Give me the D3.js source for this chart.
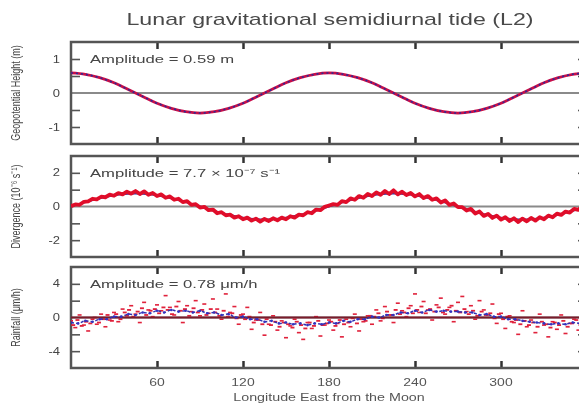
<!DOCTYPE html>
<html><head><meta charset="utf-8">
<script src="https://cdn.jsdelivr.net/npm/d3@7"></script>
<style>
html,body{margin:0;padding:0;background:#fff;overflow:hidden}
svg{display:block;font-family:"Liberation Sans",Arial,sans-serif}
</style></head>
<body>
<svg id="c" width="579" height="407"></svg>
<script>
// ---------- DATA ----------
const title = "Lunar gravitational semidiurnal tide (L2)";
const xTitle = "Longitude East from the Moon";
const xTicks = [60, 120, 180, 240, 300];

// Panel 1: geopotential height (m), every 10 degrees
const lon10 = d3.range(0, 361, 10);
const heightObs = [0.59,0.55,0.45,0.30,0.10,-0.10,-0.30,-0.45,-0.55,-0.59,-0.55,-0.45,-0.30,-0.10,0.10,0.30,0.45,0.55,0.59,
                   0.55,0.45,0.30,0.10,-0.10,-0.30,-0.45,-0.55,-0.59,-0.55,-0.45,-0.30,-0.10,0.10,0.30,0.45,0.55,0.59];
const heightTicks = [-1,-0.5,0.5,1];
const heightLabels = [-1,0,1];

// Panel 2: divergence (1e-6 s^-1), observations every 3 degrees, fit every 10 degrees
const lon3 = d3.range(0, 361, 3);
const divObs = [0.02,0.12,0.10,0.28,0.30,0.46,0.42,0.58,0.55,0.70,0.64,0.80,0.72,0.88,0.76,0.92,
  0.74,0.90,0.70,0.80,0.62,0.72,0.52,0.60,0.40,0.46,0.26,0.32,0.10,0.14,-0.06,
  -0.02,-0.22,-0.18,-0.40,-0.34,-0.52,-0.48,-0.66,-0.58,-0.76,-0.66,-0.84,-0.72,-0.90,-0.74,
  -0.86,-0.70,-0.82,-0.66,-0.76,-0.58,-0.66,-0.48,-0.52,-0.34,-0.40,-0.18,-0.22,-0.02,0.06,
  0.14,0.10,0.32,0.26,0.48,0.40,0.62,0.52,0.74,0.62,0.84,0.70,0.92,0.74,0.96,
  0.72,0.88,0.68,0.80,0.60,0.74,0.50,0.62,0.40,0.48,0.24,0.36,0.10,0.18,-0.04,
  -0.04,-0.24,-0.14,-0.42,-0.30,-0.56,-0.44,-0.68,-0.54,-0.78,-0.64,-0.86,-0.70,-0.92,-0.72,
  -0.88,-0.68,-0.84,-0.64,-0.76,-0.54,-0.64,-0.42,-0.50,-0.30,-0.36,-0.14,-0.20,0.04,0.02];
const divFit = [0,0.26,0.49,0.67,0.76,0.76,0.67,0.49,0.26,0,-0.26,-0.49,-0.67,-0.76,-0.76,-0.67,-0.49,-0.26,0,
  0.26,0.49,0.67,0.76,0.76,0.67,0.49,0.26,0,-0.26,-0.49,-0.67,-0.76,-0.76,-0.67,-0.49,-0.26,0];
const divTicks = [-2,-1,1,2];
const divLabels = [-2,0,2];

// Panel 3: rainfall (um/h)
const rainObs = [-0.4,-1.2,0.3,-0.9,-1.6,-0.2,-0.8,0.4,-1.1,-0.3,0.6,
  -0.5,1.0,0.2,1.4,0.4,-0.6,1.8,0.9,0.1,1.5,
  0.8,2.6,1.2,0.3,1.9,-0.6,1.4,0.7,2.0,0.2,
  1.6,0.5,2.2,1.0,-0.2,2.8,0.6,1.3,-0.8,0.4,
  1.2,-1.4,-0.3,0.6,-2.1,-0.8,0.2,-1.5,-0.4,-2.4,
  -1.0,-0.2,-1.8,-2.6,-0.6,-1.3,0.1,-2.2,-0.9,-0.3,
  -1.5,-0.7,-2.3,-0.2,-1.1,0.4,-1.6,-0.5,0.2,-0.8,
  0.9,-0.4,1.3,0.3,-0.6,1.7,0.8,0.1,1.4,2.8,
  0.6,1.9,0.9,-0.3,1.5,2.3,0.4,1.2,-0.5,1.8,
  2.5,0.7,1.4,-0.2,2.0,0.9,0.3,1.6,-0.7,0.5,
  -1.3,0.2,-0.6,-2.0,0.8,-1.1,-0.3,-1.8,0.4,-0.9,
  -2.3,-0.5,-1.4,0.3,-1.9,-0.7,-0.2,-1.5,-0.8,-2.0];
const lonHalf = d3.range(1.5, 360, 3);
const rainObs2 = [-0.9,-0.3,-1.0,-0.5,-0.7,0.0,-0.6,-0.2,0.3,-0.4,
  0.4,-0.2,0.6,0.9,0.1,0.7,1.1,0.3,0.8,1.0,
  0.5,1.2,0.9,0.4,1.3,0.8,1.0,0.2,1.1,0.6,
  0.9,0.3,1.0,0.6,0.2,0.8,0.1,0.5,-0.1,0.3,
  -0.2,0.1,-0.6,-0.3,-0.8,-0.2,-0.9,-0.5,-1.1,-0.6,
  -0.8,-1.2,-0.5,-0.9,-1.3,-0.6,-1.0,-0.4,-0.9,-0.7,
  -0.5,-1.0,-0.3,-0.8,-0.6,-0.1,-0.7,-0.2,-0.4,0.2,
  0.1,0.5,-0.1,0.7,0.3,0.9,0.4,0.6,1.1,0.5,
  0.9,1.3,0.5,1.0,0.7,1.2,0.6,0.9,1.4,0.8,
  0.6,1.0,0.4,0.8,0.2,0.7,0.3,0.5,-0.1,0.4,
  -0.2,0.1,-0.5,-0.3,-0.8,-0.4,-0.9,-0.6,-1.1,-0.5,
  -0.8,-1.2,-0.6,-0.9,-0.4,-1.1,-0.7,-0.3,-0.9,-0.5];
const lon5 = d3.range(0, 361, 5);
const rainFit = [-0.6,-0.7,-0.4,-0.5,-0.2,-0.2,0.1,0.1,0.4,0.3,0.6,0.5,0.8,0.6,0.9,0.7,0.8,0.6,0.8,0.5,0.6,0.3,0.4,0.0,0.1,
  -0.2,-0.2,-0.5,-0.4,-0.7,-0.6,-0.8,-0.7,-0.9,-0.7,-0.8,-0.6,-0.7,-0.4,-0.5,-0.2,-0.2,0.1,0.0,0.3,0.3,0.6,0.5,0.8,0.6,
  0.9,0.7,0.8,0.7,0.7,0.6,0.6,0.3,0.4,0.1,0.1,-0.2,-0.2,-0.4,-0.5,-0.6,-0.7,-0.8,-0.7,-0.8,-0.6,-0.7,-0.6];
const rainTicks = [-4,-2,2,4];
const rainLabels = [-4,0,4];

// ---------- DRAW ----------
const svg = d3.select("#c");
const defs = svg.append("defs");
defs.append("filter").attr("id","blur").append("feGaussianBlur").attr("stdDeviation",0.6);
const root = svg.append("g").attr("filter","url(#blur)");

function stext(g, px, py, str, size, anchor, sx, fill){
  return g.append("text").attr("transform",`translate(${px},${py}) scale(${sx},1)`)
    .attr("text-anchor",anchor).attr("font-size",size).attr("fill",fill||"#444").text(str);
}

const x = d3.scaleLinear().domain([0,360]).range([71,587]);

stext(root, 330, 25, title, 16, "middle", 1.45, "#4a4a4a");

const panels = [
  {top:42,bottom:144,domain:[-1.5,1.5],ticks:heightTicks,labels:heightLabels,ylab:"Geopotential Height (m)",amp:"Amplitude = 0.59 m"},
  {top:156,bottom:257,domain:[-3,3],ticks:divTicks,labels:divLabels,ylab:"Divergence (10⁻⁶ s⁻¹)",amp:"Amplitude = 7.7 × 10⁻⁷ s⁻¹"},
  {top:267,bottom:368,domain:[-6,6],ticks:rainTicks,labels:rainLabels,ylab:"Rainfall (μm/h)",amp:"Amplitude = 0.78 μm/h"}
];

panels.forEach((p,i)=>{
  const y = d3.scaleLinear().domain(p.domain).range([p.bottom,p.top]);
  p.y = y;
  const g = root.append("g");
  const cid = "clip"+i;
  defs.append("clipPath").attr("id",cid).append("rect")
    .attr("x",x(0)).attr("y",p.top).attr("width",x(360)-x(0)).attr("height",p.bottom-p.top);
  p.g = g; p.clip = "url(#"+cid+")";
  g.append("line").attr("x1",x(0)).attr("x2",x(360)).attr("y1",y(0)).attr("y2",y(0))
    .attr("stroke","#8a8a8a").attr("stroke-width",2);
  const left = d3.axisLeft(y).tickValues(p.ticks).tickSize(-9).tickFormat("");
  g.append("g").attr("transform",`translate(${x(0)},0)`).call(left)
    .call(a=>a.select(".domain").remove())
    .selectAll("line").attr("stroke","#555").attr("stroke-width",1.6);
  const right = d3.axisRight(y).tickValues(p.ticks).tickSize(-9).tickFormat("");
  g.append("g").attr("transform",`translate(${x(360)},0)`).call(right)
    .call(a=>a.select(".domain").remove())
    .selectAll("line").attr("stroke","#555").attr("stroke-width",1.6);
  p.labels.forEach(v=>{
    stext(g, x(0)-11, y(v)+3.5, v<0 ? "-"+Math.abs(v) : String(v), 10, "end", 1.3, "#444");
  });
  const xt = d3.axisBottom(x).tickValues(xTicks).tickSize(-7).tickFormat("");
  g.append("g").attr("transform",`translate(0,${p.bottom})`).call(xt)
    .call(a=>a.select(".domain").remove())
    .selectAll("line").attr("stroke","#333").attr("stroke-width",2.5);
  const xt2 = d3.axisTop(x).tickValues(xTicks).tickSize(-7).tickFormat("");
  g.append("g").attr("transform",`translate(0,${p.top})`).call(xt2)
    .call(a=>a.select(".domain").remove())
    .selectAll("line").attr("stroke","#333").attr("stroke-width",2.5);
  g.append("rect").attr("x",x(0)).attr("y",p.top).attr("width",x(360)-x(0)).attr("height",p.bottom-p.top)
    .attr("fill","none").attr("stroke","#555").attr("stroke-width",2.5);
  g.append("text").attr("transform",`translate(20,${(p.top+p.bottom)/2}) rotate(-90) scale(1,1.5)`)
    .attr("text-anchor","middle").attr("font-size",9).attr("fill","#444").text(p.ylab);
  stext(g, 90, y(p.labels[2])+4, p.amp, 11.5, "start", 1.45, "#444");
});

// Panel 1 curves
{
  const p = panels[0], y = p.y;
  const line = d3.line().x((d,i)=>x(lon10[i])).y(d=>y(d)).curve(d3.curveCatmullRom);
  p.g.append("path").datum(heightObs).attr("d",line).attr("fill","none")
    .attr("stroke","#c81048").attr("stroke-width",2.8).attr("clip-path",p.clip);
  p.g.append("path").datum(heightObs).attr("d",line).attr("fill","none")
    .attr("stroke","#2a2a9a").attr("stroke-width",1.6).attr("stroke-dasharray","2,3").attr("clip-path",p.clip);
}
// Panel 2 curves
{
  const p = panels[1], y = p.y;
  const fit = d3.line().x((d,i)=>x(lon10[i])).y(d=>y(d)).curve(d3.curveCatmullRom);
  p.g.append("path").datum(divFit).attr("d",fit).attr("fill","none")
    .attr("stroke","#3a3aa0").attr("stroke-width",2).attr("clip-path",p.clip);
  const obs = d3.line().x((d,i)=>x(lon3[i])).y(d=>y(d));
  p.g.append("path").datum(divObs).attr("d",obs).attr("fill","none")
    .attr("stroke","#e0102a").attr("stroke-width",3.8).attr("stroke-linejoin","round").attr("clip-path",p.clip);
}
// Panel 3 points
{
  const p = panels[2], y = p.y;
  const pg = p.g.append("g").attr("clip-path",p.clip);
  pg.append("g").selectAll("line").data(rainObs2).join("line")
    .attr("x1",(d,i)=>x(lonHalf[i])-2).attr("x2",(d,i)=>x(lonHalf[i])+2)
    .attr("y1",d=>y(d)).attr("y2",d=>y(d)).attr("stroke","#e0203a").attr("stroke-width",1.8);
  pg.append("g").selectAll("line").data(rainObs).join("line")
    .attr("x1",(d,i)=>x(lon3[i])-2).attr("x2",(d,i)=>x(lon3[i])+2)
    .attr("y1",d=>y(d)).attr("y2",d=>y(d)).attr("stroke","#e0203a").attr("stroke-width",1.6);
  pg.append("line").attr("x1",x(0)).attr("x2",x(360)).attr("y1",y(0)).attr("y2",y(0))
    .attr("stroke","#7a1a2a").attr("stroke-width",2);
  const fit = d3.line().x((d,i)=>x(lon5[i])).y(d=>y(d)).curve(d3.curveCatmullRom);
  pg.append("path").datum(rainFit).attr("d",fit).attr("fill","none")
    .attr("stroke","#3030b0").attr("stroke-width",1.5).attr("stroke-dasharray","3,2");
  pg.append("g").selectAll("circle").data(rainFit).join("circle")
    .attr("cx",(d,i)=>x(lon5[i])).attr("cy",d=>y(d)).attr("r",1.3).attr("fill","#3030c0");
}

// x tick labels and axis title
{
  const p = panels[2];
  xTicks.forEach(v=> stext(root, x(v), p.bottom+18, String(v), 10, "middle", 1.4, "#555"));
  stext(root, 329, 401, xTitle, 11, "middle", 1.3, "#555");
}
</script>
</body></html>
